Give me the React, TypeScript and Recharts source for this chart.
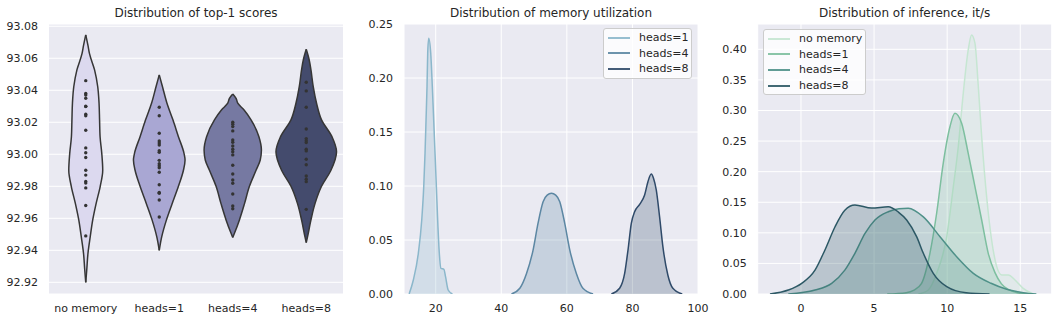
import React from 'react';
import { ComposedChart, Area, Scatter, XAxis, YAxis, CartesianGrid, Legend } from 'recharts';

const FONT = "'DejaVu Sans', sans-serif";
const TEXT = '#262626';
const BG = '#EAEAF2';

// ---------- Panel 1: violin plot of top-1 scores ----------
const scoreCategories = ['no memory', 'heads=1', 'heads=4', 'heads=8'];
const scoreTicks = [92.92, 92.94, 92.96, 92.98, 93.0, 93.02, 93.04, 93.06, 93.08];
const violinColors = ['#DCD9EF', '#A9A7D3', '#7679A2', '#444B6D'];

// [score, half width of the violin in category units]
const violinNoMemory: [number, number][] = [
  [92.92, 0], [92.928, 0.014], [92.938, 0.03], [92.9485, 0.061], [92.959, 0.095], [92.969, 0.14],
  [92.98, 0.197], [92.99, 0.231], [93.0006, 0.218], [93.011, 0.195], [93.0215, 0.188], [93.0319, 0.181],
  [93.0422, 0.163], [93.0527, 0.12], [93.063, 0.05], [93.068, 0.03], [93.0746, 0],
];
const violinHeads1: [number, number][] = [
  [92.94, 0], [92.9485, 0.034], [92.959, 0.098], [92.969, 0.174], [92.98, 0.261], [92.99, 0.329],
  [92.9964, 0.351], [93.0006, 0.337], [93.011, 0.261], [93.0215, 0.186], [93.0319, 0.105],
  [93.0422, 0.044], [93.0496, 0],
];
const violinHeads4: [number, number][] = [
  [92.948, 0], [92.9506, 0.023], [92.959, 0.091], [92.969, 0.159], [92.98, 0.227], [92.99, 0.317],
  [92.9964, 0.374], [93.0027, 0.39], [93.011, 0.356], [93.0215, 0.249], [93.0277, 0.154],
  [93.0319, 0.068], [93.035, 0.045], [93.0377, 0],
];
const violinHeads8: [number, number][] = [
  [92.9448, 0], [92.9485, 0.018], [92.959, 0.064], [92.969, 0.118], [92.98, 0.208], [92.99, 0.336],
  [93.0016, 0.412], [93.011, 0.35], [93.0215, 0.208], [93.0319, 0.14], [93.0422, 0.095],
  [93.0527, 0.064], [93.0594, 0.038], [93.0656, 0],
];

const pointsNoMemory = [93.046, 93.038, 93.037, 93.035, 93.030, 93.0298, 93.025, 93.024, 93.015, 93.004,
  93.001, 92.998, 92.990, 92.987, 92.983, 92.982, 92.979, 92.968, 92.949];
const pointsHeads1 = [93.0294, 93.0241, 93.0131, 93.0083, 93.0071, 93.0058, 93.0022, 93.0012, 92.9962,
  92.9941, 92.9929, 92.9916, 92.9888, 92.981, 92.9762, 92.9756, 92.9714, 92.9608];
const pointsHeads4 = [93.02, 93.0188, 93.0173, 93.0146, 93.0089, 93.0075, 93.0052, 93.0031, 93.0016,
  92.9996, 92.9931, 92.9877, 92.9839, 92.9819, 92.9752, 92.9677, 92.966];
const pointsHeads8 = [93.045, 93.0396, 93.0294, 93.0158, 93.0098, 93.0085, 93.0073, 93.0031, 93.0021,
  92.9969, 92.9935, 92.9864, 92.9844, 92.9829, 92.9656];

// ---------- Panel 2: memory utilization KDE ----------
const memNames = ['heads=1', 'heads=4', 'heads=8'];
const memColors = ['#8BB7CB', '#5C87A3', '#2F4A69'];
const memXTicks = [20, 40, 60, 80, 100];
const memYTicks = [0, 0.05, 0.1, 0.15, 0.2, 0.25];
const memHeads1: [number, number][] = [
  [11.9, 0], [13.18, 0.013], [14.7, 0.0377], [15.74, 0.0685], [16.35, 0.0994], [16.74, 0.13],
  [17.05, 0.161], [17.35, 0.192], [17.56, 0.223], [17.87, 0.2368], [18.48, 0.223], [18.97, 0.192],
  [19.39, 0.161], [19.8, 0.13], [20.2, 0.0994], [20.6, 0.0685], [21.1, 0.0377], [21.6, 0.0238],
  [22.5, 0.0229], [23.0, 0.016], [23.8, 0.0037], [25.1, 0],
];
const memHeads4: [number, number][] = [
  [43.1, 0], [45.66, 0.0053], [47.7, 0.019], [49.7, 0.0407], [51.2, 0.0654], [52.76, 0.0855],
  [54.0, 0.0915], [55.3, 0.0932], [56.6, 0.0915], [57.84, 0.0855], [59.36, 0.0654], [60.9, 0.0407],
  [62.9, 0.019], [64.9, 0.0053], [68.0, 0],
];
const memHeads8: [number, number][] = [
  [73.58, 0], [76.1, 0.0053], [77.63, 0.019], [78.65, 0.0407], [79.66, 0.0654], [80.67, 0.0762],
  [82.2, 0.083], [83.72, 0.0917], [84.73, 0.104], [85.75, 0.111], [86.45, 0.107], [87.27, 0.0963],
  [88.28, 0.0716], [89.29, 0.0438], [90.8, 0.0176], [92.33, 0.0053], [95.19, 0],
];

// ---------- Panel 3: inference speed KDE ----------
const infNames = ['no memory', 'heads=1', 'heads=4', 'heads=8'];
const infColors = ['#C6E6D2', '#7DBF9F', '#4F9189', '#2C5865'];
const infXTicks = [0, 5, 10, 15];
const infYTicks = [0, 0.05, 0.1, 0.15, 0.2, 0.25, 0.3, 0.35, 0.4];
const infNoMemory: [number, number][] = [
  [8.03, 0], [8.71, 0.0065], [9.28, 0.0338], [9.97, 0.0937], [10.42, 0.175], [10.76, 0.2408],
  [11.1, 0.328], [11.44, 0.399], [11.67, 0.4234], [11.9, 0.41], [12.13, 0.339], [12.36, 0.257],
  [12.7, 0.159], [13.04, 0.0883], [13.39, 0.0447], [13.73, 0.031], [14.18, 0.031], [14.64, 0.0229],
  [15.2, 0.0093], [15.89, 0],
];
const infHeads1: [number, number][] = [
  [5.9, 0], [6.5, 0.0005], [7.2, 0.002], [7.7, 0.006], [8.25, 0.0175], [8.82, 0.0665], [9.28, 0.132],
  [9.73, 0.2137], [10.19, 0.2735], [10.53, 0.2954], [10.99, 0.279], [11.44, 0.23], [11.9, 0.1754],
  [12.36, 0.121], [12.81, 0.0665], [13.27, 0.035], [13.7, 0.017], [14.2, 0.007], [14.8, 0.002], [15.5, 0],
];
const infHeads4: [number, number][] = [
  [-0.87, 0], [0.96, 0.0065], [2.1, 0.0175], [3.0, 0.039], [3.69, 0.0665], [4.38, 0.099], [5.06, 0.121],
  [5.97, 0.1345], [6.7, 0.1395], [7.34, 0.1402], [8.37, 0.126], [9.51, 0.0937], [10.65, 0.061],
  [11.79, 0.0338], [13.0, 0.0175], [14.07, 0.0077], [15.2, 0.0022], [16.1, 0],
];
const infHeads8: [number, number][] = [
  [-2.12, 0], [-0.87, 0.0065], [0.05, 0.0175], [0.96, 0.039], [1.64, 0.072], [2.33, 0.11], [3.0, 0.137],
  [3.69, 0.1455], [4.83, 0.1405], [5.97, 0.1427], [6.66, 0.134], [7.23, 0.121], [7.91, 0.0937],
  [8.37, 0.0665], [9.05, 0.0338], [9.97, 0.012], [11.3, 0.002], [12.9, 0],
];

// ---------- derived tables ----------
const violinData = [violinNoMemory, violinHeads1, violinHeads4, violinHeads8].map((v, i) =>
  v.map(([y, w]) => ({ y, band: [i + 0.5 - w, i + 0.5 + w] }))
);
const dotData = [pointsNoMemory, pointsHeads1, pointsHeads4, pointsHeads8].flatMap((arr, i) =>
  arr.map((y) => ({ x: i + 0.5, y }))
);
const toXY = (s: [number, number][]) => s.map(([x, d]) => ({ x, d }));
const memSeries = [memHeads1, memHeads4, memHeads8].map(toXY);
const infSeries = [infNoMemory, infHeads1, infHeads4, infHeads8].map(toXY);

const tickStyle = { fill: TEXT, fontSize: 11, fontFamily: FONT };
const W = 1059;
const H = 321;

const Title = ({ text, left, width }: { text: string; left: number; width: number }) => (
  <div
    style={{
      position: 'absolute', left, top: 6, width, textAlign: 'center', fontFamily: FONT,
      fontSize: 12, lineHeight: '15px', color: TEXT, whiteSpace: 'nowrap',
    }}
  >
    {text}
  </div>
);

const LegendBox = ({ names, colors, width }: { names: string[]; colors: string[]; width: number }) => (
  <div
    style={{
      boxSizing: 'border-box', width, background: 'rgba(255,255,255,0.8)', border: '1px solid #cccccc',
      borderRadius: 3, padding: '1px 0 1px 4px',
    }}
  >
    {names.map((n, i) => (
      <div key={n} style={{ display: 'flex', alignItems: 'center', height: 15.6 }}>
        <svg width={22} height={4} style={{ display: 'block' }}>
          <line x1={0} y1={2} x2={22} y2={2} stroke={colors[i]} strokeWidth={1.8} />
        </svg>
        <span style={{ marginLeft: 9, fontSize: 11, fontFamily: FONT, color: TEXT, lineHeight: '15.6px' }}>{n}</span>
      </div>
    ))}
  </div>
);

const layer: React.CSSProperties = { position: 'absolute', left: 0, top: 0, width: W, height: H };

export default function App() {
  return (
    <div style={{ position: 'absolute', left: 0, top: 0, width: W, height: H, background: '#fff', overflow: 'hidden' }}>
      {/* Panel 1 */}
      <div style={layer}>
        <ComposedChart layout="vertical" width={W} height={H} margin={{ top: 24, right: 716, bottom: 0, left: 0 }}>
          <CartesianGrid fill={BG} stroke="#fff" strokeWidth={1} vertical={false} />
          <XAxis
            type="number" domain={[0, 4]} ticks={[0.5, 1.5, 2.5, 3.5]} interval={0} allowDataOverflow
            tickFormatter={(v: number) => scoreCategories[Math.round(v - 0.5)]}
            axisLine={false} tickLine={false} tickSize={0} tickMargin={10} height={27} tick={tickStyle}
          />
          <YAxis
            type="number" dataKey="y" domain={[92.9127, 93.0814]} ticks={scoreTicks} interval={0} allowDataOverflow
            reversed
            tickFormatter={(v: number) => v.toFixed(2)}
            axisLine={false} tickLine={false} tickSize={0} tickMargin={11} width={49} tick={tickStyle}
          />
          {violinData.map((d, i) => (
            <Area
              key={i} data={d} dataKey="band" type="monotone" fill={violinColors[i]} fillOpacity={1}
              stroke="#363636" strokeWidth={1.5} dot={false} activeDot={false} isAnimationActive={false}
            />
          ))}
          <Scatter
            data={dotData} dataKey="x" isAnimationActive={false}
            shape={(p: any) => <circle cx={p.cx} cy={p.cy} r={1.7} fill="#333333" />}
          />
        </ComposedChart>
      </div>

      {/* Panel 2 */}
      <div style={layer}>
        <ComposedChart width={W} height={H} margin={{ top: 24, right: 361, bottom: 0, left: 354 }}>
          <CartesianGrid fill={BG} stroke="#fff" strokeWidth={1} />
          <XAxis
            type="number" dataKey="x" domain={[10.33, 100]} ticks={memXTicks} interval={0} allowDataOverflow
            axisLine={false} tickLine={false} tickSize={0} tickMargin={10} height={27} tick={tickStyle}
          />
          <YAxis
            type="number" domain={[0, 0.25]} ticks={memYTicks} interval={0} allowDataOverflow
            tickFormatter={(v: number) => v.toFixed(2)}
            axisLine={false} tickLine={false} tickSize={0} tickMargin={11} width={50} tick={tickStyle}
          />
          {memSeries.map((d, i) => (
            <Area
              key={i} name={memNames[i]} data={d} dataKey="d" type="monotone" fill={memColors[i]} fillOpacity={0.25}
              stroke={memColors[i]} strokeWidth={1.5} dot={false} activeDot={false} isAnimationActive={false}
            />
          ))}
          <Legend
            layout="vertical" align="center" verticalAlign="middle"
            wrapperStyle={{ left: 603, top: 28, width: 89 }}
            content={() => <LegendBox names={memNames} colors={memColors} width={89} />}
          />
        </ComposedChart>
      </div>

      {/* Panel 3 */}
      <div style={layer}>
        <ComposedChart width={W} height={H} margin={{ top: 24, right: 7.3, bottom: 0, left: 707.7 }}>
          <CartesianGrid fill={BG} stroke="#fff" strokeWidth={1} />
          <XAxis
            type="number" dataKey="x" domain={[-2.96, 17.15]} ticks={infXTicks} interval={0} allowDataOverflow
            axisLine={false} tickLine={false} tickSize={0} tickMargin={10} height={27} tick={tickStyle}
          />
          <YAxis
            type="number" domain={[0, 0.4414]} ticks={infYTicks} interval={0} allowDataOverflow
            tickFormatter={(v: number) => v.toFixed(2)}
            axisLine={false} tickLine={false} tickSize={0} tickMargin={11} width={50} tick={tickStyle}
          />
          {infSeries.map((d, i) => (
            <Area
              key={i} name={infNames[i]} data={d} dataKey="d" type="monotone" fill={infColors[i]} fillOpacity={0.25}
              stroke={infColors[i]} strokeWidth={1.5} dot={false} activeDot={false} isAnimationActive={false}
            />
          ))}
          <Legend
            layout="vertical" align="center" verticalAlign="middle"
            wrapperStyle={{ left: 763, top: 29, width: 103 }}
            content={() => <LegendBox names={infNames} colors={infColors} width={103} />}
          />
        </ComposedChart>
      </div>

      <Title text="Distribution of top-1 scores" left={49} width={294} />
      <Title text="Distribution of memory utilization" left={404} width={294} />
      <Title text="Distribution of inference, it/s" left={757.7} width={294} />
    </div>
  );
}
